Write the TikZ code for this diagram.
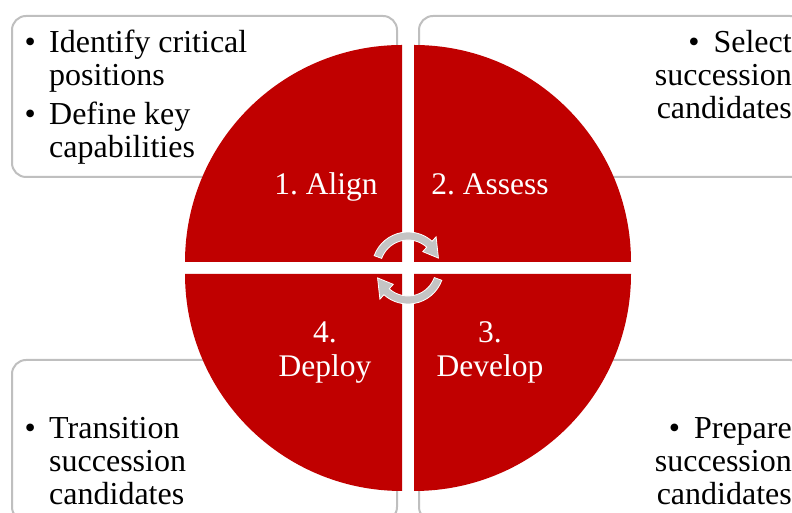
\documentclass[tikz,border=0pt]{standalone}
\usepackage{fontspec}
\setmainfont{Liberation Serif}
\newfontfamily\serifface{Liberation Serif}
\definecolor{quadred}{HTML}{C00000}
\definecolor{cardgray}{HTML}{BFBFBF}
\definecolor{cyclegray}{HTML}{C4C4C4}
\begin{document}
\frenchspacing
\begin{tikzpicture}[x=1bp,y=1bp,
  card/.style={draw=cardgray, line width=2bp, rounded corners=14bp, fill=white,
    minimum width=385bp, minimum height=161bp, inner sep=0, outer sep=0},
  quad/.style={fill=quadred},
  steplabel/.style={text=white, font=\serifface\frenchspacing\fontsize{31.5bp}{34bp}\selectfont, align=center, inner sep=0},
  bullets/.style={font=\serifface\fontsize{32bp}{33bp}\selectfont, inner sep=0},
  cyc/.style={fill=cyclegray, draw=white, line width=0.8bp}
]
\useasboundingbox (0,0) rectangle (792,513);
\begin{scope}
\clip (0,0) rectangle (792,513);
% text cards behind the wheel
\node[card, anchor=north west] (cardalign)   at (12,497)  {};
\node[card, anchor=north west] (cardassess)  at (419,497) {};
\node[card, anchor=north west] (carddeploy)  at (12,153)  {};
\node[card, anchor=north west] (carddevelop) at (419,153) {};

% bullet texts (anchored on the baseline of their last line)
\node[bullets, anchor=base west, align=left] (ptsalign) at (24.4,355)
  {\makebox[24.6bp][l]{\textbullet}Identify critical\\
   \hspace*{24.6bp}positions\\[6bp]
   \makebox[24.6bp][l]{\textbullet}Define key\\
   \hspace*{24.6bp}capabilities};
\node[bullets, anchor=base east, align=right] (ptsassess) at (792,394)
  {\textbullet\hspace{14bp}Select\\succession\\candidates};
\node[bullets, anchor=base west, align=left] (ptsdeploy) at (24.4,8)
  {\makebox[24.6bp][l]{\textbullet}Transition\\
   \hspace*{24.6bp}succession\\
   \hspace*{24.6bp}candidates};
\node[bullets, anchor=base east, align=right] (ptsdevelop) at (792,8)
  {\textbullet\hspace{14bp}Prepare\\succession\\candidates};

% the four quadrants of the wheel
\fill[quad] (402,251) -- ++(-217,0) arc[start angle=180, end angle=90, radius=217] -- cycle;
\fill[quad] (414,251) -- ++(0,217) arc[start angle=90, end angle=0, radius=217] -- cycle;
\fill[quad] (414,239) -- ++(217,0) arc[start angle=0, end angle=-90, radius=217] -- cycle;
\fill[quad] (402,239) -- ++(0,-217) arc[start angle=270, end angle=180, radius=217] -- cycle;
\end{scope}

\node[steplabel, anchor=base] (align)   at (326,318) {1. Align};
\node[steplabel, anchor=base] (assess)  at (490,318) {2. Assess};
\node[steplabel, anchor=base] (deploy)  at (325,136) {4.\\Deploy};
\node[steplabel, anchor=base] (develop) at (490,136) {3.\\Develop};

% circular arrows at the hub
\coordinate (hub) at (408,245);
\begin{scope}[shift={(hub)}]
\path[cyc] (160:36) arc[start angle=160, end angle=48, radius=36] -- (48:42) -- (18:32)
  -- (48:22) -- (48:28) arc[start angle=48, end angle=160, radius=28] -- cycle;
\path[cyc] (-20:36) arc[start angle=-20, end angle=-132, radius=36] -- (-132:42) -- (-162:32)
  -- (-132:22) -- (-132:28) arc[start angle=-132, end angle=-20, radius=28] -- cycle;
\end{scope}
\end{tikzpicture}
\end{document}
